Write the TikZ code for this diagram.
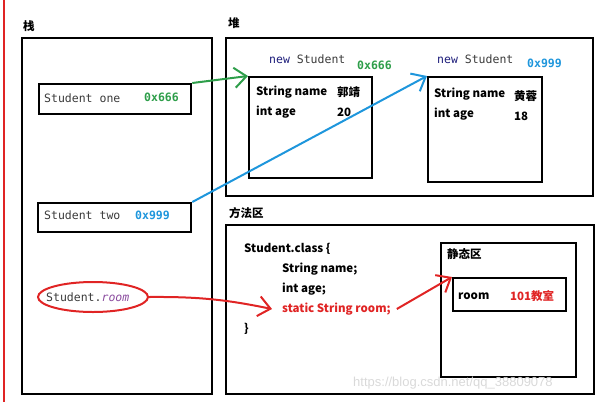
\documentclass[tikz,border=0pt]{standalone}
\usepackage{fontspec}
\setmainfont{Noto Sans CJK SC}
\setmonofont{DejaVu Sans Mono}
\newfontfamily\markfont{Liberation Sans}
\usetikzlibrary{arrows.meta,positioning,shapes.geometric}
\definecolor{ptrgreen}{HTML}{2E9E4A}
\definecolor{ptrblue}{HTML}{1E96DC}
\definecolor{ptrred}{HTML}{E02424}
\definecolor{kwnavy}{HTML}{1C1C7A}
\definecolor{fieldpurple}{HTML}{8A4A9E}
\definecolor{ink}{HTML}{3A3A3A}
\newcommand{\mono}[1]{{\mdseries\ttfamily #1}}

\begin{document}
\begin{tikzpicture}[x=1pt, y=-1pt, >={Straight Barb[length=12pt,width=20pt]},
    font=\fontsize{11.5}{13}\selectfont\bfseries,
    area/.style={draw, line width=2.3pt, anchor=north west, inner sep=0pt},
    txt/.style={anchor=west, inner sep=0pt},
    ptr/.style={->, line width=2pt}]
    \useasboundingbox (0,0) rectangle (607,402);
    \draw[ptrred, line width=1.6pt] (4,0) -- (4,402);
    % three memory areas
    \node[area, minimum width=190pt, minimum height=356pt] (stack) at (21,37) {};
    \node[area, minimum width=367pt, minimum height=158pt] (heap) at (225,37) {};
    \node[area, minimum width=368pt, minimum height=169pt] (method) at (225,224) {};
    \node[txt] (stacklbl) at (23,26) {栈};
    \node[txt] (heaplbl) at (228,23) {堆};
    \node[txt] (methodlbl) at (229,213) {方法区};
    % stack
    \node[area, minimum width=152pt, minimum height=30pt] (one) at (38,83) {};
    \node[txt, ink] (onetxt) at (44,98) {\mono{Student one}};
    \node[txt, ptrgreen] (oneaddr) at (144,97) {\ttfamily 0x666};
    \node[area, minimum width=153pt, minimum height=29pt] (two) at (37,202) {};
    \node[txt, ink] (twotxt) at (44,215) {\mono{Student two}};
    \node[txt, ptrblue] (twoaddr) at (135,215) {\ttfamily 0x999};
    \node[draw=ptrred, line width=2pt, ellipse, minimum width=110pt, minimum height=30pt] (roomref) at (93,297) {};
    \node[txt, ink] (roomreftxt) at (46,297) {\mono{Student.{\color{fieldpurple}\itshape room}}};
    % heap
    \node[area, minimum width=123pt, minimum height=101pt] (obj1) at (248,76) {};
    \node[txt] (new1) at (269,59) {\mono{{\color{kwnavy}new} {\color{ink}Student}}};
    \node[txt, ptrgreen] (addr1) at (357,65) {\ttfamily 0x666};
    \node[txt] (name1) at (256,92) {String name};
    \node[txt] (nameval1) at (337,92) {郭靖};
    \node[txt] (age1) at (256,112) {int age};
    \node[txt] (ageval1) at (337,112) {20};
    \node[area, minimum width=114pt, minimum height=105pt] (obj2) at (427,76) {};
    \node[txt] (new2) at (437,59) {\mono{{\color{kwnavy}new} {\color{ink}Student}}};
    \node[txt, ptrblue] (addr2) at (527,63) {\ttfamily 0x999};
    \node[txt] (name2) at (434,94) {String name};
    \node[txt] (nameval2) at (514,96) {黄蓉};
    \node[txt] (age2) at (434,114) {int age};
    \node[txt] (ageval2) at (514,116) {18};
    % method area
    \node[txt] (cls) at (244,249) {Student.class \{};
    \node[txt] (fname) at (282,269) {String name;};
    \node[txt] (fage) at (282,289) {int age;};
    \node[txt, ptrred] (fstatic) at (282,309) {static String room;};
    \node[txt] (clsend) at (244,329) {\}};
    \node[area, minimum width=135pt, minimum height=134pt] (staticarea) at (440,242) {};
    \node[txt] (staticlbl) at (447,254) {静态区};
    \node[area, minimum width=113pt, minimum height=33pt] (roombox) at (452,277) {};
    \node[txt] (roomtxt) at (458,296) {room};
    \node[txt, ptrred] (roomval) at (510,296) {101教室};
    \node[txt, gray!30, font=\markfont\fontsize{13}{15}\selectfont] (mark) at (353,383) {https://blog.csdn.net/qq\_38809078};
    % references
    \draw[ptr, ptrgreen] (one.north east) -- (obj1.north west);
    \draw[ptr, ptrblue] (two.north east) -- (obj2.north west);
    \draw[ptr, ptrred] (roomref.east) to[bend left=6] ([xshift=-10pt]fstatic.west);
    \draw[ptr, ptrred] ([xshift=6pt]fstatic.east) -- (roombox.north west);
\end{tikzpicture}
\end{document}
